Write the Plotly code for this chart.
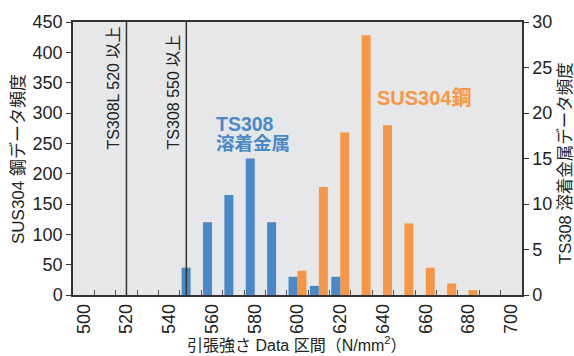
import plotly.graph_objects as go

# ---- data ----
ts308_bins = [550, 560, 570, 580, 590, 600, 610, 620]
ts308_counts = [3, 8, 11, 15, 8, 2, 1, 2]

sus304_bins = [600, 610, 620, 630, 640, 650, 660, 670, 680]
sus304_counts = [40, 178, 268, 428, 280, 118, 45, 19, 8]

x_tick_vals = [500, 520, 540, 560, 580, 600, 620, 640, 660, 680, 700]
x_tick_text = [str(v) for v in x_tick_vals]
bin_edges = list(range(505, 700, 10))

left_ticks = [0, 50, 100, 150, 200, 250, 300, 350, 400, 450]
right_ticks = [0, 5, 10, 15, 20, 25, 30]

threshold_x = [520, 548]
threshold_text = ["TS308L 520 以上", "TS308 550 以上"]

BLUE = "#4A89C8"
ORANGE = "#F79646"
AXIS = "#333333"
FONT = "Liberation Sans, Noto Sans CJK JP, sans-serif"

fig = go.Figure()

fig.add_trace(go.Bar(
    x=sus304_bins, y=sus304_counts, yaxis="y",
    width=4.2, offset=0.0,
    marker=dict(color=ORANGE, line=dict(width=0)),
    name="SUS304鋼", showlegend=False,
))
fig.add_trace(go.Bar(
    x=ts308_bins, y=ts308_counts, yaxis="y2",
    width=4.2, offset=-4.2,
    marker=dict(color=BLUE, line=dict(width=0)),
    name="TS308 溶着金属", showlegend=False,
))

for xv in threshold_x:
    fig.add_shape(type="line", xref="x", yref="paper", x0=xv, x1=xv, y0=0, y1=1,
                  line=dict(color=AXIS, width=1.5), layer="above")

annotations = []
for xv, t in zip(threshold_x, threshold_text):
    annotations.append(dict(
        x=xv, xref="x", xshift=-12.5, y=0.527, yref="paper",
        text=t, textangle=-90, showarrow=False,
        xanchor="center", yanchor="bottom",
        font=dict(family=FONT, size=16, color="#222222"),
    ))

annotations += [
    dict(x=0.314, y=0.627, xref="paper", yref="paper", text="<b>TS308</b>",
         showarrow=False, xanchor="left", yanchor="middle",
         font=dict(family=FONT, size=19.5, color=BLUE)),
    dict(x=0.314, y=0.556, xref="paper", yref="paper", text="<b>溶着金属</b>",
         showarrow=False, xanchor="left", yanchor="middle",
         font=dict(family=FONT, size=18.5, color=BLUE)),
    dict(x=0.672, y=0.72, xref="paper", yref="paper", text="<b>SUS304鋼</b>",
         showarrow=False, xanchor="left", yanchor="middle",
         font=dict(family=FONT, size=20, color=ORANGE)),
    # axis titles
    dict(x=-0.1225, y=0.498, xref="paper", yref="paper", text="SUS304 鋼データ頻度",
         textangle=-90, showarrow=False, xanchor="center", yanchor="middle",
         font=dict(family=FONT, size=17, color="#222222")),
    dict(x=1.0958, y=0.484, xref="paper", yref="paper", text="TS308 溶着金属データ頻度",
         textangle=-90, showarrow=False, xanchor="center", yanchor="middle",
         font=dict(family=FONT, size=16.5, color="#222222")),
    dict(x=0.498, y=-0.179, xref="paper", yref="paper",
         text="引張強さ Data 区間（N/mm<sup>2</sup>）",
         showarrow=False, xanchor="center", yanchor="middle",
         font=dict(family=FONT, size=16, color="#222222")),
]

fig.update_layout(
    width=574, height=356,
    margin=dict(l=73, r=52, t=16, b=61),
    paper_bgcolor="white",
    plot_bgcolor="#E6E7E8",
    font=dict(family=FONT, size=18, color="#222222"),
    barmode="overlay",
    annotations=annotations,
    xaxis=dict(
        range=[495, 705], tickmode="array", tickvals=x_tick_vals, ticktext=x_tick_text,
        tickangle=-90, ticks="", showgrid=False, zeroline=False,
        showline=True, linecolor=AXIS, linewidth=1.5, mirror=True,
        tickfont=dict(family=FONT, size=18, color="#222222"),
        minor=dict(tickmode="array", tickvals=bin_edges, ticks="inside",
                   ticklen=5, tickcolor="#555555", tickwidth=1.2, showgrid=False),
    ),
    yaxis=dict(
        range=[0, 450], tickmode="array", tickvals=left_ticks,
        ticks="outside", ticklen=5, tickcolor=AXIS, tickwidth=1.2,
        showgrid=False, zeroline=False,
        showline=True, linecolor=AXIS, linewidth=1.5,
        tickfont=dict(family=FONT, size=18, color="#222222"),
    ),
    yaxis2=dict(
        range=[0, 30], tickmode="array", tickvals=right_ticks,
        overlaying="y", side="right",
        ticks="outside", ticklen=5, tickcolor=AXIS, tickwidth=1.2,
        showgrid=False, zeroline=False,
        showline=True, linecolor=AXIS, linewidth=1.5,
        tickfont=dict(family=FONT, size=18, color="#222222"),
    ),
)

fig.write_html(
    "out.html",
    config={"displayModeBar": False},
    post_script="document.body.style.margin='0';document.body.style.padding='0';",
)
